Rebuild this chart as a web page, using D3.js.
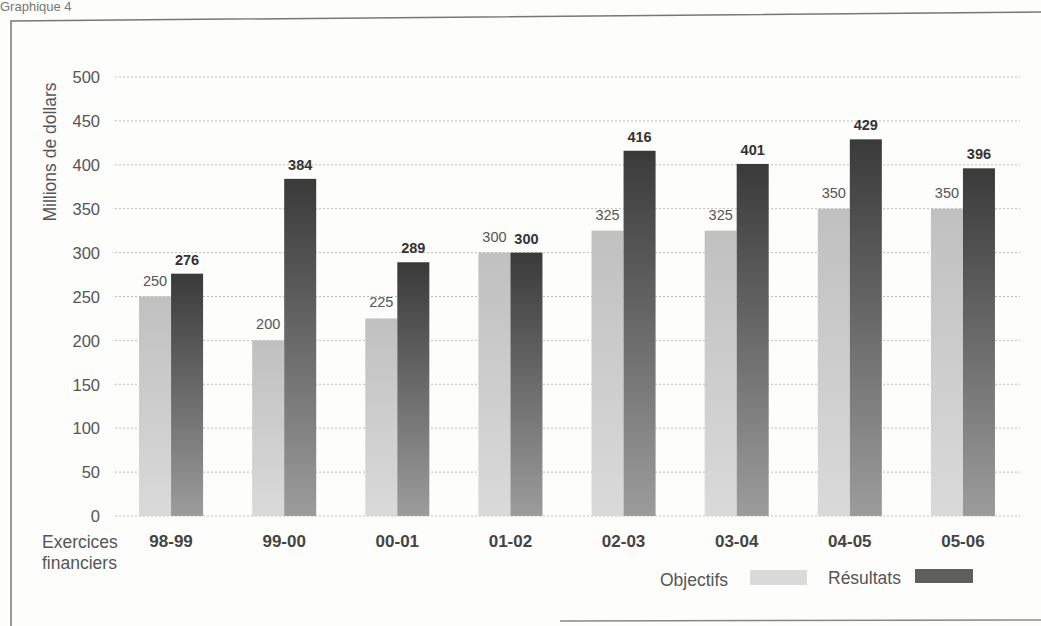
<!DOCTYPE html>
<html><head><meta charset="utf-8">
<script src="https://cdn.jsdelivr.net/npm/d3@7"></script>
<style>
html,body{margin:0;padding:0;background:#fdfdfb;}
svg{display:block;font-family:"Liberation Sans",Arial,sans-serif;}
</style></head>
<body><svg id="c" width="1041" height="626"></svg>
<script>
const categories = ["98-99","99-00","00-01","01-02","02-03","03-04","04-05","05-06"];
const objectifs = [250,200,225,300,325,325,350,350];
const resultats = [276,384,289,300,416,401,429,396];
const yTicks = [0,50,100,150,200,250,300,350,400,450,500];
const seriesNames = ["Objectifs","Résultats"];

const svg = d3.select("#c");
svg.append("rect").attr("width",1041).attr("height",626).attr("fill","#fdfdfb");

const defs = svg.append("defs");
const g1 = defs.append("linearGradient").attr("id","gObj").attr("x1",0).attr("y1",0).attr("x2",0).attr("y2",1);
g1.append("stop").attr("offset","0%").attr("stop-color","#c0c0c0");
g1.append("stop").attr("offset","100%").attr("stop-color","#dadada");
const g2 = defs.append("linearGradient").attr("id","gRes").attr("x1",0).attr("y1",0).attr("x2",0).attr("y2",1);
g2.append("stop").attr("offset","0%").attr("stop-color","#3a3a3a");
g2.append("stop").attr("offset","100%").attr("stop-color","#9c9c9c");

// title (only partly visible in original)
svg.append("text").attr("x",0).attr("y",11).attr("font-size",13).attr("fill","#777").text("Graphique 4");

// frame
svg.append("path").attr("d","M11,626 L11,21 L1041,12").attr("fill","none").attr("stroke","#777").attr("stroke-width",1.5);
svg.append("line").attr("x1",560).attr("x2",1041).attr("y1",621).attr("y2",620).attr("stroke","#888").attr("stroke-width",1.5);

const x = d3.scaleBand().domain(categories).range([114.5,1019.5]).paddingInner(0.434).paddingOuter(0.217);
const y = d3.scaleLinear().domain([0,500]).range([516,77]);

// gridlines
svg.append("g").selectAll("line").data(yTicks).join("line")
  .attr("x1",115).attr("x2",1020).attr("y1",d=>y(d)).attr("y2",d=>y(d))
  .attr("stroke","#bbb").attr("stroke-width",1).attr("stroke-dasharray","2,2");

// y axis labels
const yAxis = d3.axisLeft(y).tickValues(yTicks).tickSize(0).tickPadding(0);
const ya = svg.append("g").attr("transform","translate(100,0)").call(yAxis);
ya.select(".domain").remove();
ya.selectAll("text").attr("font-size",16.5).attr("fill","#555").attr("font-family","Liberation Sans, Arial, sans-serif").attr("dy","0.35em");

svg.append("text").attr("transform","translate(56,152) rotate(-90)").attr("text-anchor","middle")
  .attr("font-size",17.5).attr("fill","#555").text("Millions de dollars");

// x axis labels
const xAxis = d3.axisBottom(x).tickSize(0).tickPadding(0);
const xa = svg.append("g").attr("transform","translate(0,535)").call(xAxis);
xa.select(".domain").remove();
xa.selectAll("text").attr("font-size",17).attr("font-weight","bold").attr("fill","#444")
  .attr("font-family","Liberation Sans, Arial, sans-serif").attr("dy","0.71em");
svg.append("text").attr("x",42).attr("y",548).attr("font-size",17.5).attr("fill","#555").text("Exercices");
svg.append("text").attr("x",42).attr("y",569).attr("font-size",17.5).attr("fill","#555").text("financiers");

const bw = x.bandwidth()/2;
const data = categories.map((c,i)=>({c, o:objectifs[i], r:resultats[i]}));

const bars = svg.append("g");
bars.selectAll("rect.o").data(data).join("rect").attr("class","o")
  .attr("x",d=>x(d.c)).attr("width",bw).attr("y",d=>y(d.o)).attr("height",d=>y(0)-y(d.o)).attr("fill","url(#gObj)");
bars.selectAll("rect.r").data(data).join("rect").attr("class","r")
  .attr("x",d=>x(d.c)+bw).attr("width",bw).attr("y",d=>y(d.r)).attr("height",d=>y(0)-y(d.r)).attr("fill","url(#gRes)");

bars.selectAll("text.o").data(data).join("text").attr("class","o")
  .attr("x",d=>x(d.c)+bw/2).attr("y",d=>y(d.o)-11).attr("text-anchor","middle")
  .attr("font-size",14.5).attr("fill","#555").text(d=>d.o);
bars.selectAll("text.r").data(data).join("text").attr("class","r")
  .attr("x",d=>x(d.c)+bw*1.5).attr("y",d=>y(d.r)-9).attr("text-anchor","middle")
  .attr("font-size",14.5).attr("font-weight","bold").attr("fill","#333").text(d=>d.r);

// legend
const leg = svg.append("g");
leg.append("text").attr("x",660).attr("y",586).attr("font-size",17.5).attr("fill","#555").text(seriesNames[0]);
leg.append("rect").attr("x",750).attr("y",570).attr("width",57).attr("height",15).attr("fill","#dadada");
leg.append("text").attr("x",828).attr("y",584).attr("font-size",17.5).attr("fill","#555").text(seriesNames[1]);
leg.append("rect").attr("x",915).attr("y",569).attr("width",58).attr("height",14).attr("fill","#5e5e5e");
</script></body></html>
